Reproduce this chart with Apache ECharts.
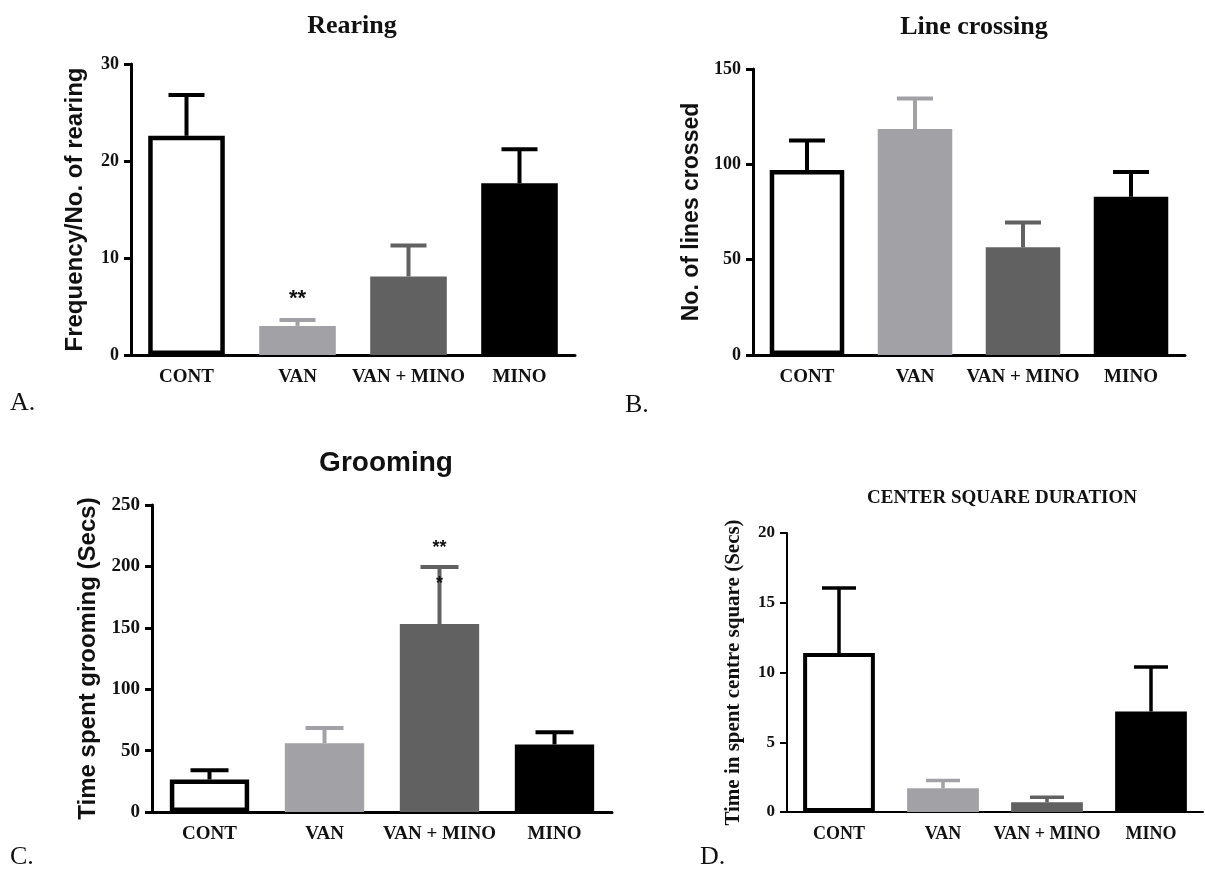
<!DOCTYPE html>
<html>
<head>
<meta charset="utf-8">
<script src="https://cdn.jsdelivr.net/npm/echarts@6/dist/echarts.min.js"></script>
<style>html,body{margin:0;padding:0;background:#fff}#c{width:1205px;height:872px}</style>
</head>
<body>
<div id="c"></div>
<script>
// ---- data ----
const categories = ['CONT', 'VAN', 'VAN + MINO', 'MINO'];

const rearingMean = [22.6, 3.0, 8.1, 17.7];
const rearingSem = [4.2, 0.6, 3.2, 3.5];
const rearingTicks = [0, 10, 20, 30];

const crossingMean = [97, 118.5, 56.5, 83];
const crossingSem = [15.5, 16, 13, 13];
const crossingTicks = [0, 50, 100, 150];

const groomingMean = [26.5, 56, 153, 55];
const groomingSem = [7.5, 12.5, 46.5, 10];
const groomingTicks = [0, 50, 100, 150, 200, 250];

const centerMean = [11.4, 1.7, 0.7, 7.2];
const centerSem = [4.65, 0.55, 0.35, 3.2];
const centerTicks = [0, 5, 10, 15, 20];

// significance marks: [categoryIndex, value position, text]
const rearingSig = [[1, 5.8, '**']];
const groomingSig = [[2, 215, '**'], [2, 186, '*']];

// ---- styles ----
const barColors = ['#ffffff', '#a2a2a6', '#616161', '#000000'];
const errColors = ['#000000', '#a2a2a6', '#616161', '#000000'];
const SERIF = '"Liberation Serif", "Times New Roman", serif';
const SANS = '"Liberation Sans", Arial, sans-serif';

const panels = [
  {mean: rearingMean, sem: rearingSem, ticks: rearingTicks, sig: rearingSig,
   grid: {left: 131, top: 64, width: 444, height: 291},
   axisW: 3, name: 'Frequency/No. of rearing', nameFont: SANS, nameSize: 24, nameGap: 44,
   title: 'Rearing', titleFont: SERIF, titleSize: 26, tx: 347, ty: 8,
   letter: 'A.', lx: 10, ly: 390, tickSize: 18, catSize: 19, errW: 4, cap: 18},
  {mean: crossingMean, sem: crossingSem, ticks: crossingTicks, sig: [],
   grid: {left: 753, top: 69, width: 432, height: 286},
   axisW: 3, name: 'No. of lines crossed', nameFont: SANS, nameSize: 23, nameGap: 50,
   title: 'Line crossing', titleFont: SERIF, titleSize: 26, tx: 969, ty: 9,
   letter: 'B.', lx: 625, ly: 392, tickSize: 18, catSize: 19, errW: 4, cap: 18},
  {mean: groomingMean, sem: groomingSem, ticks: groomingTicks, sig: groomingSig,
   grid: {left: 152, top: 505, width: 460, height: 307},
   axisW: 3, name: 'Time spent grooming (Secs)', nameFont: SANS, nameSize: 24, nameGap: 52,
   title: 'Grooming', titleFont: SANS, titleSize: 28, tx: 381, ty: 444,
   letter: 'C.', lx: 10, ly: 844, tickSize: 19, catSize: 19, errW: 4, cap: 19},
  {mean: centerMean, sem: centerSem, ticks: centerTicks, sig: [],
   grid: {left: 787, top: 533, width: 416, height: 279},
   axisW: 2, name: 'Time in spent centre square (Secs)', nameFont: SERIF, nameSize: 21, nameGap: 43,
   title: 'CENTER SQUARE DURATION', titleFont: SERIF, titleSize: 19, tx: 997, ty: 484,
   letter: 'D.', lx: 700, ly: 844, tickSize: 17, catSize: 18, errW: 3.5, cap: 17}
];

const option = {
  animation: false,
  backgroundColor: '#fff',
  title: [], grid: [], xAxis: [], yAxis: [], series: [], graphic: []
};

panels.forEach((p, i) => {
  option.grid.push(Object.assign({containLabel: false}, p.grid));
  option.title.push({
    text: p.title, left: p.tx, top: p.ty, textAlign: 'center',
    textStyle: {fontFamily: p.titleFont, fontSize: p.titleSize, fontWeight: 'bold', color: '#111'}
  });
  option.graphic.push({
    type: 'text', left: p.lx, top: p.ly,
    style: {text: p.letter, font: '26px ' + SERIF, fill: '#111'}
  });
  option.xAxis.push({
    type: 'category', gridIndex: i, data: categories,
    axisLine: {lineStyle: {color: '#000', width: p.axisW}},
    axisTick: {alignWithLabel: true, length: 7, lineStyle: {color: '#000', width: p.axisW}},
    axisLabel: {color: '#111', fontFamily: SERIF, fontWeight: 'bold', fontSize: p.catSize, margin: 13, interval: 0},
    splitLine: {show: false}
  });
  const step = p.ticks[1] - p.ticks[0];
  option.yAxis.push({
    type: 'value', gridIndex: i, min: p.ticks[0], max: p.ticks[p.ticks.length - 1], interval: step,
    name: p.name, nameLocation: 'middle', nameGap: p.nameGap, nameRotate: 90,
    nameTextStyle: {fontFamily: p.nameFont, fontSize: p.nameSize, fontWeight: 'bold', color: '#111'},
    axisLine: {show: true, lineStyle: {color: '#000', width: p.axisW}},
    axisTick: {show: true, length: 7, lineStyle: {color: '#000', width: p.axisW}},
    axisLabel: {color: '#111', fontFamily: SERIF, fontWeight: 'bold', fontSize: p.tickSize, margin: 12},
    splitLine: {show: false}
  });
  // error bars (behind bars)
  option.series.push({
    type: 'custom', xAxisIndex: i, yAxisIndex: i, z: 1,
    data: p.mean.map((m, k) => [k, m, p.sem[k]]),
    renderItem: function (params, api) {
      const k = api.value(0), m = api.value(1), e = api.value(2);
      const a = api.coord([k, m]);
      const b = api.coord([k, m + e]);
      const st = {stroke: errColors[k], lineWidth: p.errW};
      return {type: 'group', children: [
        {type: 'line', shape: {x1: a[0], y1: a[1], x2: b[0], y2: b[1]}, style: st},
        {type: 'line', shape: {x1: b[0] - p.cap, y1: b[1], x2: b[0] + p.cap, y2: b[1]}, style: st}
      ]};
    }
  });
  option.series.push({
    type: 'bar', xAxisIndex: i, yAxisIndex: i, z: 2, barWidth: '69%',
    data: p.mean.map((m, k) => ({
      value: m,
      itemStyle: k === 0
        ? {color: '#fff', borderColor: '#000', borderWidth: i === 3 ? 4 : 4.5}
        : {color: barColors[k]}
    }))
  });
  if (p.sig.length) {
    option.series.push({
      type: 'custom', xAxisIndex: i, yAxisIndex: i, z: 3,
      data: p.sig,
      renderItem: function (params, api) {
        const pt = api.coord([api.value(0), api.value(1)]);
        const txt = p.sig[params.dataIndex][2];
        return {type: 'text', x: pt[0], y: pt[1],
          style: {text: txt, textAlign: 'center', textVerticalAlign: 'middle',
            font: 'bold ' + (i === 0 ? 22 : 18) + 'px ' + SANS, fill: '#111'}};
      }
    });
  }
});

const chart = echarts.init(document.getElementById('c'), null, {renderer: 'canvas'});
chart.setOption(option);
</script>
</body>
</html>
